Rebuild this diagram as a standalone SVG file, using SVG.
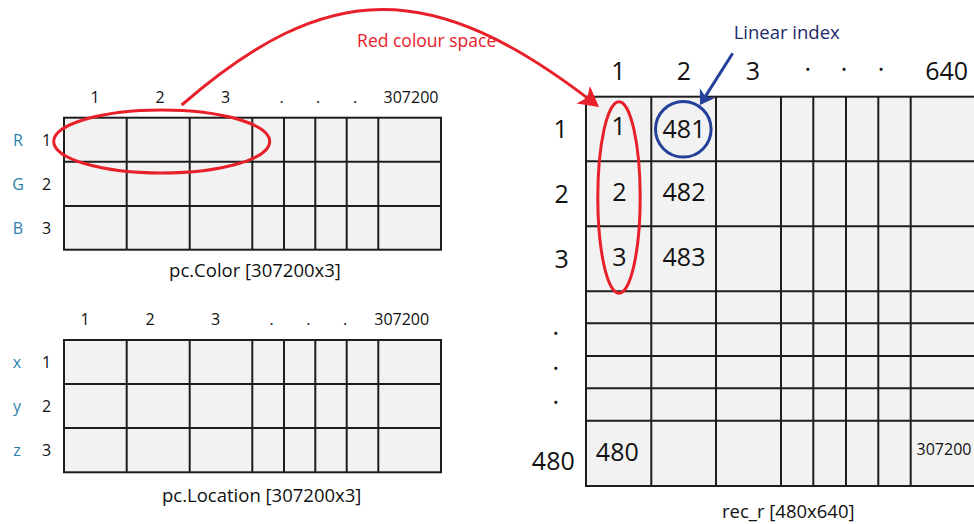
<svg xmlns="http://www.w3.org/2000/svg" width="974" height="524" viewBox="0 0 974 524">
<defs>
<style>
.bg{fill:#ffffff}
.tbl{fill:#f2f2f2;stroke:#1e1e1e;stroke-width:2}
.gl{stroke:#1e1e1e;stroke-width:2;fill:none}
.t{font-family:"Open Sans","Noto Sans",sans-serif;fill:#111;text-anchor:middle}
.s16{font-size:16px}
.s18{font-size:18.5px}
.s25{font-size:25px}
.rl{fill:#2b7fab}
.red{fill:#e8202a}
.navy{fill:#1b2a6b}
.ann-r{fill:none;stroke:#e8202a;stroke-width:3}
.ann-b{fill:none;stroke:#23409a;stroke-width:3}
</style>
<marker id="ah-red" markerUnits="userSpaceOnUse" markerWidth="22" markerHeight="24" refX="12" refY="11" orient="auto">
<path d="M0,0 L20,11 L0,22 L5,11 z" fill="#e8202a"/>
</marker>
<marker id="ah-blue" markerUnits="userSpaceOnUse" markerWidth="16" markerHeight="20" refX="8" refY="9" orient="auto">
<path d="M0,0 L14,9 L0,18 L4,9 z" fill="#23409a"/>
</marker>
</defs>
<rect class="bg" x="0" y="0" width="974" height="524"/>

<g id="pc-color">
<rect class="tbl" x="64" y="117.7" width="377" height="132"/>
<path class="gl" d="M64,161.7H441M64,206H441M126.7,117.7V249.7M189.7,117.7V249.7M252.3,117.7V249.7M284,117.7V249.7M315.3,117.7V249.7M346.7,117.7V249.7M378.3,117.7V249.7"/>
<g class="t s16">
<text x="95" y="103">1</text>
<text x="160" y="103">2</text>
<text x="225.7" y="103">3</text>
<text x="281.7" y="103">.</text>
<text x="318" y="103">.</text>
<text x="355" y="103">.</text>
<text x="411" y="103">307200</text>
<text x="46.7" y="145.5">1</text>
<text x="46.7" y="189.5">2</text>
<text x="46.7" y="233.5">3</text>
<text class="rl" x="18" y="145.5">R</text>
<text class="rl" x="18" y="189.5">G</text>
<text class="rl" x="18" y="233.5">B</text>
</g>
<text class="t s18" x="255" y="276.5">pc.Color [307200x3]</text>
</g>

<g id="pc-location">
<rect class="tbl" x="64" y="340" width="377" height="132.3"/>
<path class="gl" d="M64,384H441M64,428H441M126.7,340V472.3M189.7,340V472.3M252.3,340V472.3M284,340V472.3M315.3,340V472.3M346.7,340V472.3M378.3,340V472.3"/>
<g class="t s16">
<text x="85" y="325">1</text>
<text x="150" y="325">2</text>
<text x="215.7" y="325">3</text>
<text x="271.7" y="325">.</text>
<text x="308.3" y="325">.</text>
<text x="345" y="325">.</text>
<text x="401.7" y="325">307200</text>
<text x="46.7" y="367.5">1</text>
<text x="46.7" y="411.5">2</text>
<text x="46.7" y="455.5">3</text>
<text class="rl" x="17" y="367.5">x</text>
<text class="rl" x="17" y="411.5">y</text>
<text class="rl" x="17" y="455.5">z</text>
</g>
<text class="t s18" x="261.7" y="501.5">pc.Location [307200x3]</text>
</g>

<g id="rec-r">
<rect class="tbl" x="586" y="96.7" width="400" height="389.3"/>
<path class="gl" d="M586,161.3H980M586,226.3H980M586,291.3H980M586,323.3H980M586,356H980M586,388.3H980M586,420.7H980M651.3,96.7V486M716,96.7V486M781,96.7V486M813.3,96.7V486M846,96.7V486M878.3,96.7V486M910.7,96.7V486"/>
<g class="t s25">
<text x="618.3" y="80">1</text>
<text x="684" y="80">2</text>
<text x="753" y="80">3</text>
<text x="807.7" y="78">·</text>
<text x="844" y="78">·</text>
<text x="881" y="78">·</text>
<text x="946.7" y="80">640</text>
<text x="560.7" y="138">1</text>
<text x="561.7" y="203">2</text>
<text x="561.7" y="268">3</text>
<text x="555.7" y="342">·</text>
<text x="555.7" y="376.7">·</text>
<text x="555.7" y="411">·</text>
<text x="553.3" y="470">480</text>
<text x="618.7" y="135">1</text>
<text x="619.3" y="201">2</text>
<text x="619.3" y="265.7">3</text>
<text x="684" y="138">481</text>
<text x="684" y="201">482</text>
<text x="684" y="265.7">483</text>
<text x="617.3" y="461">480</text>
</g>
<text class="t s16" x="944" y="455">307200</text>
<text class="t s18" x="788.3" y="518">rec_r [480x640]</text>
</g>

<g id="annotations">
<ellipse class="ann-r" cx="161.7" cy="141.5" rx="108" ry="31.5"/>
<ellipse class="ann-r" cx="619" cy="197.5" rx="21.2" ry="95.8"/>
<circle class="ann-b" cx="683.3" cy="129.3" r="27.8"/>
<text class="t red" style="font-size:17.5px" x="426.7" y="46.7">Red colour space</text>
<text class="t navy" style="font-size:18.5px" x="786.7" y="39.3">Linear index</text>
</g>

<g id="connectors">
<path d="M181.7,105 C328,-22 432,-22 592.7,102.1" fill="none" stroke="#e8202a" stroke-width="3" marker-end="url(#ah-red)"/>
<path d="M732.7,53.3 L703.2,99.9" fill="none" stroke="#23409a" stroke-width="3" marker-end="url(#ah-blue)"/>
</g>
</svg>
